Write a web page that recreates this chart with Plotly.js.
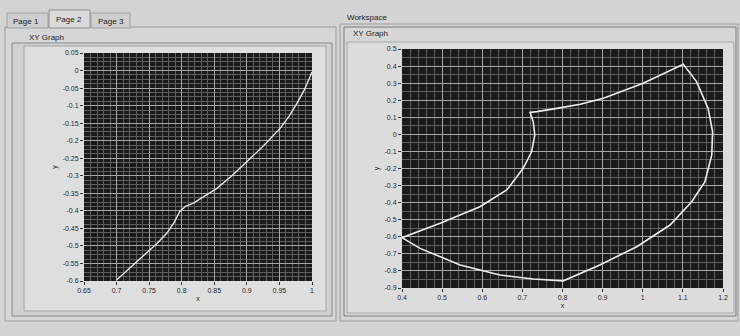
<!DOCTYPE html>
<html><head><meta charset="utf-8">
<script src="https://cdn.plot.ly/plotly-3.0.1.min.js"></script>
<style>html,body{margin:0;padding:0;background:#d3d3d3;}#chart{width:740px;height:336px;}</style>
</head><body><div id="chart"></div>
<script>
// ---- data: left graph (Page 2 XY Graph) ----
const leftX = [0.700, 0.723, 0.746, 0.762, 0.777, 0.788, 0.797, 0.806, 0.818, 0.836, 0.854, 0.877, 0.900, 0.926, 0.951, 0.965, 0.977, 0.988, 0.997, 1.0];
const leftY = [-0.597, -0.558, -0.521, -0.493, -0.464, -0.434, -0.402, -0.387, -0.378, -0.358, -0.336, -0.300, -0.260, -0.214, -0.165, -0.130, -0.093, -0.056, -0.018, -0.004];
// ---- data: right graph (Workspace XY Graph), closed contour ----
const rightX = [0.400, 0.495, 0.594, 0.661, 0.702, 0.723, 0.731, 0.727, 0.719,
                0.736, 0.786, 0.844, 0.902, 1.001, 1.101,
                1.134, 1.163, 1.174, 1.172, 1.155, 1.122, 1.068, 0.985, 0.893, 0.802,
                0.727, 0.644, 0.545, 0.445, 0.400];
const rightY = [-0.605, -0.521, -0.424, -0.326, -0.199, -0.102, -0.004, 0.074, 0.129,
                0.133, 0.152, 0.176, 0.211, 0.299, 0.410,
                0.309, 0.152, 0.016, -0.121, -0.277, -0.395, -0.531, -0.658, -0.765, -0.858,
                -0.847, -0.824, -0.765, -0.668, -0.605];
// ---- tick labels ----
const leftXTicks = [0.65, 0.7, 0.75, 0.8, 0.85, 0.9, 0.95, 1];
const leftXText = ["0.65", "0.7", "0.75", "0.8", "0.85", "0.9", "0.95", "1"];
const leftYTicks = [0.05, 0, -0.05, -0.1, -0.15, -0.2, -0.25, -0.3, -0.35, -0.4, -0.45, -0.5, -0.55, -0.6];
const leftYText = ["0.05", "0", "-0.05", "-0.1", "-0.15", "-0.2", "-0.25", "-0.3", "-0.35", "-0.4", "-0.45", "-0.5", "-0.55", "-0.6"];
const rightXTicks = [0.4, 0.5, 0.6, 0.7, 0.8, 0.9, 1, 1.1, 1.2];
const rightXText = ["0.4", "0.5", "0.6", "0.7", "0.8", "0.9", "1", "1.1", "1.2"];
const rightYTicks = [0.5, 0.4, 0.3, 0.2, 0.1, 0, -0.1, -0.2, -0.3, -0.4, -0.5, -0.6, -0.7, -0.8, -0.9];
const rightYText = ["0.5", "0.4", "0.3", "0.2", "0.1", "0", "-0.1", "-0.2", "-0.3", "-0.4", "-0.5", "-0.6", "-0.7", "-0.8", "-0.9"];

const W = 740, H = 336;
const px = v => v / W, py = v => 1 - v / H;
function rect(x0, y0, x1, y1, fill, line, lw) {
  return {type: 'rect', xref: 'paper', yref: 'paper', x0: px(x0), x1: px(x1), y0: py(y1), y1: py(y0),
          fillcolor: fill, line: {color: line, width: lw === undefined ? 1 : lw}, layer: 'below'};
}
function plotBg(xa, ya) {
  return {type: 'rect', xref: xa + ' domain', yref: ya + ' domain', x0: 0, x1: 1, y0: 0, y1: 1,
          fillcolor: '#1b1b1b', line: {width: 0}, layer: 'below'};
}
function label(x, y, text, size) {
  return {xref: 'paper', yref: 'paper', x: px(x), y: py(y), xanchor: 'left', yanchor: 'middle', text: text,
          showarrow: false, font: {family: 'Liberation Sans, Arial', size: size || 8, color: '#222'}};
}
const tickFont = {family: 'Liberation Sans, Arial', size: 7, color: '#2a2a2a'};
const titleFont = {family: 'Liberation Sans, Arial', size: 7, color: '#222'};
const common = {
  showgrid: true, gridcolor: '#a8a8a8', gridwidth: 1, zeroline: false, showline: false,
  ticks: 'outside', ticklen: 3, tickcolor: '#333', tickfont: tickFont, fixedrange: true
};
const minorGrid = '#5e5e5e';

const traces = [
  {x: leftX, y: leftY, xaxis: 'x', yaxis: 'y', mode: 'lines', line: {color: '#e8e8e8', width: 1.4}, hoverinfo: 'skip'},
  {x: rightX, y: rightY, xaxis: 'x2', yaxis: 'y2', mode: 'lines', line: {color: '#eeeeee', width: 1.6}, hoverinfo: 'skip'}
];

const layout = {
  width: W, height: H, margin: {l: 0, r: 0, t: 0, b: 0},
  paper_bgcolor: '#d3d3d3', plot_bgcolor: '#1b1b1b', showlegend: false,
  xaxis: Object.assign({}, common, {domain: [px(84), px(312)], range: [0.65, 1], tickvals: leftXTicks, ticktext: leftXText,
    minor: {dtick: 0.01, showgrid: true, gridcolor: minorGrid, gridwidth: 1},
    title: {text: 'x', font: titleFont, standoff: 2}, anchor: 'y'}),
  yaxis: Object.assign({}, common, {domain: [py(281), py(53)], range: [-0.6, 0.05], tickvals: leftYTicks, ticktext: leftYText,
    minor: {dtick: 0.0125, showgrid: true, gridcolor: minorGrid, gridwidth: 1},
    title: {text: 'y', font: titleFont, standoff: 4}, anchor: 'x'}),
  xaxis2: Object.assign({}, common, {domain: [px(402), px(723)], range: [0.4, 1.2], tickvals: rightXTicks, ticktext: rightXText,
    minor: {dtick: 0.02, showgrid: true, gridcolor: minorGrid, gridwidth: 1},
    title: {text: 'x', font: titleFont, standoff: 2}, anchor: 'y2'}),
  yaxis2: Object.assign({}, common, {domain: [py(288), py(49)], range: [-0.9, 0.5], tickvals: rightYTicks, ticktext: rightYText,
    minor: {dtick: 0.05, showgrid: true, gridcolor: minorGrid, gridwidth: 1},
    title: {text: 'y', font: titleFont, standoff: 4}, anchor: 'x2'}),
  shapes: [
    // left tab control
    rect(5, 27, 336, 321, '#d6d6d6', '#9a9a9a'),
    rect(7, 13, 48, 28, '#cfcfcf', '#a0a0a0'),
    rect(91, 13, 130, 28, '#cfcfcf', '#a0a0a0'),
    rect(49, 10, 90, 28, '#dadada', '#8c8c8c'),
    // left graph frames
    rect(12, 43, 332, 316, '#d0d0d0', '#8a8a8a'),
    rect(24, 46, 326, 311, '#dedede', '#a6a6a6'),
    // right workspace
    rect(340, 24, 738, 321, '#d4d4d4', '#9a9a9a'),
    rect(344, 27, 736, 316, '#d6d6d6', '#7a7a7a'),
    rect(347, 42, 734, 313, '#dcdcdc', '#a8a8a8'),
    // dark plot areas
    plotBg('x', 'y'),
    plotBg('x2', 'y2')
  ],
  annotations: [
    label(11, 21, 'Page 1'), label(54, 19, 'Page 2'), label(96, 21, 'Page 3'),
    label(27, 37, 'XY Graph'), label(345, 17, 'Workspace'), label(351, 34, 'XY Graph')
  ]
};
Plotly.newPlot('chart', traces, layout, {staticPlot: true, displayModeBar: false});
</script></body></html>
